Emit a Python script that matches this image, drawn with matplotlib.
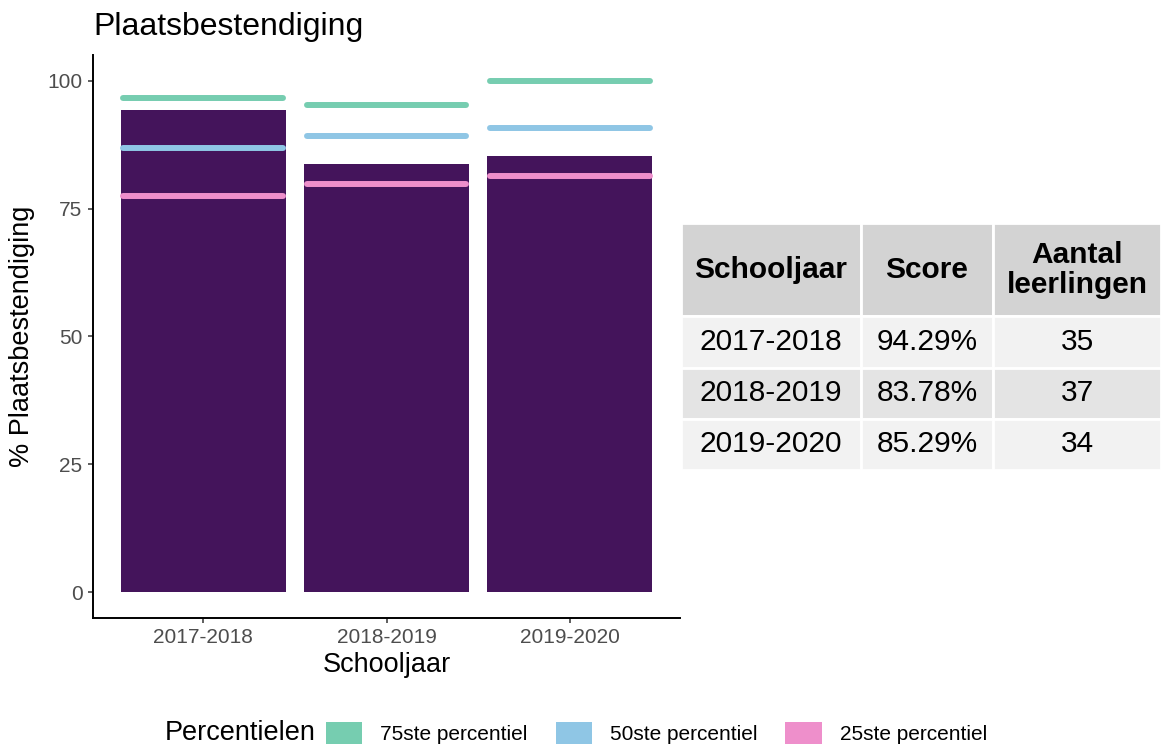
import numpy as np
import matplotlib.pyplot as plt
from matplotlib.patches import Patch

plt.rcParams['font.family'] = ['Liberation Sans', 'DejaVu Sans']

# Data
years = ['2017-2018', '2018-2019', '2019-2020']
score = [94.29, 83.78, 85.29]
n_students = [35, 37, 34]
p75 = [96.6, 95.3, 100.0]
p50 = [86.9, 89.2, 90.8]
p25 = [77.4, 79.8, 81.4]
perc_labels = ['75ste percentiel', '50ste percentiel', '25ste percentiel']

bar_color = '#44145B'
perc_colors = ['#76CDB0', '#8FC6E5', '#EE8FCB']

W, H = 1161, 747
fig = plt.figure(figsize=(W / 100, H / 100), dpi=100)
ax = fig.add_axes([93 / W, (H - 618) / H, (680 - 93) / W, (618 - 55) / H])

x = np.arange(len(years))
w = 0.9
ax.bar(x, score, width=w, color=bar_color, zorder=2)
for vals, col in zip([p75, p50, p25], perc_colors):
    for xi, v in zip(x, vals):
        ax.plot([xi - w / 2 + 0.015, xi + w / 2 - 0.015], [v, v], color=col,
                lw=4.3, solid_capstyle='round', zorder=3)

ax.set_xlim(-0.6, 2.6)
ax.set_ylim(-5, 105)
ax.set_xticks(x)
ax.set_xticklabels(years)
ax.set_yticks([0, 25, 50, 75, 100])
ax.tick_params(axis='both', labelsize=15, colors='#333333', labelcolor='#4D4D4D',
               length=3.5, width=1.1, pad=4)
for s in ['top', 'right']:
    ax.spines[s].set_visible(False)
for s in ['left', 'bottom']:
    ax.spines[s].set_linewidth(1.4)
    ax.spines[s].set_color('black')
ax.set_xlabel('Schooljaar', fontsize=19.5, labelpad=3)
ax.set_ylabel('% Plaatsbestendiging', fontsize=19.5, labelpad=9)
fig.text(93 / W, 1 - 35 / H, 'Plaatsbestendiging', fontsize=23, va='baseline', ha='left')

# Table
tax = fig.add_axes([681 / W, (H - 470) / H, (W - 681) / W, (470 - 223) / H])
tax.axis('off')
header = ['Schooljaar', 'Score', 'Aantal\nleerlingen']
rows = [[y, f'{s:.2f}%', str(n)] for y, s, n in zip(years, score, n_students)]
row_cols = ['#F2F2F2', '#E4E4E4', '#F2F2F2']
cell_colours = [[c] * 3 for c in row_cols]
tbl = tax.table(cellText=rows, colLabels=header, cellColours=cell_colours,
                colColours=['#D3D3D3'] * 3, colWidths=[180, 132, 168],
                cellLoc='center', bbox=[0, 0, 1, 1])
tbl.auto_set_font_size(False)
for (r, c), cell in tbl.get_celld().items():
    cell.set_edgecolor('white')
    cell.set_linewidth(2)
    if r == 0:
        cell.set_height(93)
        cell.get_text().set_fontweight('bold')
        cell.get_text().set_fontsize(21.5)
        cell.get_text().set_linespacing(1.1)
    else:
        cell.set_height(51)
        cell.get_text().set_fontsize(21.5)

# Legend
fig.text(165 / W, 1 - 733 / H, 'Percentielen', fontsize=19.5, va='center', ha='left')
handles = [Patch(facecolor=c, edgecolor='none') for c in perc_colors]
fig.legend(handles, perc_labels, loc='center left', bbox_to_anchor=(326 / W, 1 - 733 / H),
           ncol=3, frameon=False, fontsize=15, handlelength=1.75, handleheight=1.2,
           handletextpad=0.85, columnspacing=1.35, borderpad=0, borderaxespad=0)

fig.savefig('out.png', dpi=100)
